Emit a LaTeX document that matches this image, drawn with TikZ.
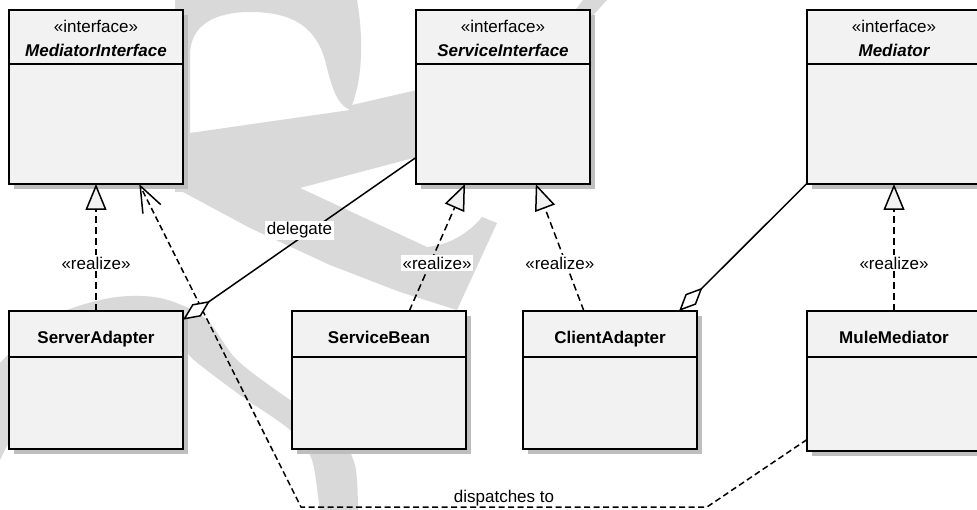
\documentclass[tikz,border=0pt]{standalone}
\usepackage{fontspec}
\setmainfont{Liberation Sans}
\usetikzlibrary{arrows.meta,shadows}
\definecolor{boxfill}{RGB}{242,242,242}
\definecolor{wmgray}{RGB}{217,217,217}
\definecolor{shadowgray}{RGB}{190,190,190}
\newcommand\dfont{\fontsize{17}{20}\selectfont}
\begin{document}
\begin{tikzpicture}[x=1pt,y=-1pt,
  umlbox/.style={rectangle, draw=black, line width=2pt, fill=boxfill, minimum width=174pt, inner sep=0pt, outer sep=0pt,
    general shadow={fill=shadowgray, shadow xshift=5pt, shadow yshift=-5pt}},
  topbox/.style={umlbox, minimum height=174pt},
  botbox/.style={umlbox, minimum height=138pt},
  divider/.style={line width=1.5pt},
  stereo/.style={font=\dfont, anchor=base, inner sep=0pt},
  iname/.style={font=\dfont\bfseries\itshape, anchor=base, inner sep=0pt},
  cname/.style={font=\dfont\bfseries, anchor=base, inner sep=0pt},
  lbl/.style={font=\dfont, fill=white, inner sep=1.5pt},
  lblplain/.style={font=\dfont, inner sep=1pt},
  realize/.style={line width=1.5pt, dash pattern=on 7pt off 4pt, -{Triangle[length=26pt,width=21pt,fill=boxfill]}},
  assoc/.style={line width=1.5pt, {Diamond[length=33pt,width=15pt,fill=white]}-},
  dispatch/.style={line width=1.5pt, dash pattern=on 6pt off 3.5pt, -{Straight Barb[length=26pt,width=20pt]}},
]
\useasboundingbox (0,0) rectangle (977,510);
\clip (0,0) rectangle (977,510);
\fill[white] (0,0) rectangle (977,510);

% watermark
\fill[wmgray, even odd rule] (175,0) -- (357,0) .. controls (364,40) and (362,80) .. (352,105) -- (417,90) -- (560,30) -- (583,0) -- (607,0) -- (587,22) -- (470,150) -- (417,157) -- (300,188) -- (427,247) .. controls (450,245) and (470,232) .. (482,217) -- (497,223) -- (457,310) -- (400,292) -- (330,265) -- (250,228) -- (183,192) -- (175,192) -- cycle
  (190,133) -- (190,55) .. controls (190,25) and (215,12) .. (250,12) .. controls (290,12) and (315,25) .. (325,60) .. controls (332,90) and (338,105) .. (350,110) -- cycle;
\fill[wmgray] plot[smooth] coordinates {(-5,368) (50,318) (110,298) (160,298) (205,318) (237,360) (290,400) (335,430) (355,465) (358,515)}
  -- plot[smooth] coordinates {(320,515) (312,460) (290,430) (240,395) (194,360) (170,335) (130,328) (80,345) (35,395) (-5,470)} -- cycle;

% classes
\node[topbox] (MI) at (96,97) {};
\node[topbox] (SI) at (503,97) {};
\node[topbox] (Med) at (894,97) {};
\node[botbox] (SA) at (96,380) {};
\node[botbox] (SB) at (379,380) {};
\node[botbox] (CA) at (610,380) {};
\node[botbox, minimum height=140pt] (MM) at (894,381) {};

\foreach \b in {MI,SI,Med}{
  \draw[divider] ([yshift=-54pt]\b.north west) -- ([yshift=-54pt]\b.north east);
}
\foreach \b in {SA,SB,CA,MM}{
  \draw[divider] ([yshift=-46pt]\b.north west) -- ([yshift=-46pt]\b.north east);
}

\node[stereo] (MIst) at (96,33) {«interface»};
\node[iname] (MInm) at (96,57) {MediatorInterface};
\node[stereo] (SIst) at (503,33) {«interface»};
\node[iname] (SInm) at (503,57) {ServiceInterface};
\node[stereo] (Medst) at (894,33) {«interface»};
\node[iname] (Mednm) at (894,57) {Mediator};

\node[cname] (SAnm) at (96,344) {ServerAdapter};
\node[cname] (SBnm) at (379,344) {ServiceBean};
\node[cname] (CAnm) at (610,344) {ClientAdapter};
\node[cname] (MMnm) at (894,344) {MuleMediator};

% connectors
\coordinate (d1) at (707,507);
\coordinate (d2) at (301,507);
\draw[dispatch] (MM) -- (d1) -- node[lblplain, anchor=base, yshift=5pt] (dt) {dispatches to} (d2) -- (MI);

\draw[realize] (SA) -- node[lbl, yshift=-15.5pt] (r1) {«realize»} (MI);
\draw[realize] (SB) -- node[lbl, yshift=-15.5pt] (r2) {«realize»} (SI);
\draw[realize] (CA) -- node[lbl, yshift=-15.5pt] (r3) {«realize»} (SI);
\draw[realize] (MM) -- node[lbl, yshift=-15.5pt] (r4) {«realize»} (Med);

\draw[assoc] (SA) -- node[lbl, anchor=base, yshift=4pt] (dl) {delegate} (SI);
\draw[assoc] (CA) -- (Med);
\end{tikzpicture}
\end{document}
